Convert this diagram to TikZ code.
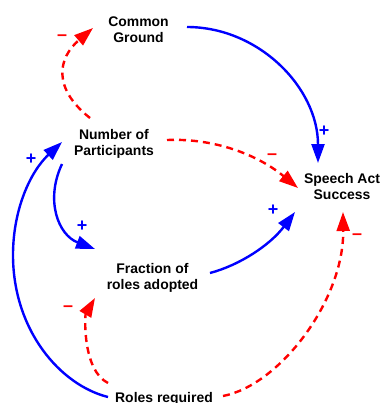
\documentclass[tikz,border=0pt]{standalone}
\usepackage{fontspec}
\setmainfont{Liberation Sans}
\usetikzlibrary{arrows.meta}
\definecolor{cblue}{RGB}{0,0,255}
\definecolor{cred}{RGB}{255,0,0}
\tikzset{
  lbl/.style={font=\fontsize{14}{16}\selectfont\bfseries, align=center, inner sep=0pt},
  poslink/.style={draw=cblue, line width=2.4bp, -{Triangle[length=19bp,width=13bp]}},
  neglink/.style={draw=cred, line width=2.4bp, dash pattern=on 7bp off 5bp, -{Triangle[length=19bp,width=13bp]}},
  psign/.style={text=cblue, font=\fontsize{18}{18}\selectfont\bfseries, inner sep=0pt},
  nsign/.style={text=cred, font=\fontsize{18}{18}\selectfont\bfseries, inner sep=0pt},
}
\begin{document}
\begin{tikzpicture}[x=1bp,y=-1bp]
\useasboundingbox (0,0) rectangle (382,403);
% nodes
\node[lbl] (cg) at (138.5,29.5) {Common\\Ground};
\node[lbl] (np) at (114,144) {Number of\\Participants};
\node[lbl] (sas) at (342,186.5) {Speech Act\\Success};
\node[lbl] (fr) at (152.5,277.5) {Fraction of\\roles adopted};
\node[lbl, anchor=base] (rr) at (164,402) {Roles required};
% connector ends
\coordinate (a1s) at (187,27);  \coordinate (a1e) at (318,163);
\coordinate (a2s) at (90,118);  \coordinate (a2e) at (93,28);
\coordinate (a3s) at (167,140); \coordinate (a3e) at (298,188);
\coordinate (a4s) at (62,164);  \coordinate (a4e) at (95,249);
\coordinate (a5s) at (108,397); \coordinate (a5m) at (13,255); \coordinate (a5e) at (62,142);
\coordinate (a6s) at (108,383); \coordinate (a6e) at (95,298);
\coordinate (a7s) at (210,273); \coordinate (a7e) at (295,212);
\coordinate (a8s) at (223,396); \coordinate (a8e) at (343,212);
% connectors
\draw[poslink] (a1s) .. controls (259,27) and (318,88) .. (a1e);
\draw[neglink] (a2s) .. controls (52,88) and (58,58) .. (a2e);
\draw[neglink] (a3s) .. controls (215,138) and (258,155) .. (a3e);
\draw[poslink] (a4s) .. controls (45,200) and (58,235) .. (a4e);
\draw[poslink] (a5s) .. controls (60,385) and (13,330) .. (a5m) .. controls (13,210) and (30,172) .. (a5e);
\draw[neglink] (a6s) .. controls (82,370) and (85,315) .. (a6e);
\draw[poslink] (a7s) .. controls (240,265) and (270,245) .. (a7e);
\draw[neglink] (a8s) .. controls (280,385) and (344,300) .. (a8e);
% polarity signs
\node[psign] (s1) at (324,131) {+};
\node[nsign] (s2) at (62,38) {–};
\node[nsign] (s3) at (272,157) {–};
\node[psign] (s4) at (82,226) {+};
\node[psign] (s5) at (31,159) {+};
\node[nsign] (s6) at (68,309) {–};
\node[psign] (s7) at (273,210) {+};
\node[nsign] (s8) at (357,237) {–};
\end{tikzpicture}
\end{document}
